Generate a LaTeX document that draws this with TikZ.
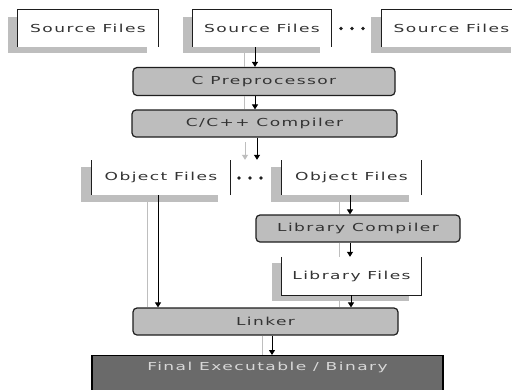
\documentclass[tikz,border=0pt]{standalone}
\usepackage{fontspec}
\newfontfamily\diagfont[FakeStretch=1.55,LetterSpace=13]{DejaVu Sans}
\usetikzlibrary{arrows.meta}
\pgfdeclarelayer{background}
\pgfsetlayers{background,main}
\definecolor{shadowgray}{HTML}{BEBEBE}
\definecolor{procgray}{HTML}{BDBDBD}
\definecolor{finalgray}{HTML}{6A6A6A}
\definecolor{textdark}{HTML}{333333}
\definecolor{edgedark}{HTML}{1E1E1E}
\definecolor{finaltext}{HTML}{D8D8D8}

\tikzset{
  labeltext/.style={font=\diagfont\fontsize{11}{12}\selectfont, text=textdark},
  filebox/.style={labeltext, inner sep=0pt, minimum width=139pt, minimum height=37pt},
  procbox/.style={labeltext, draw=edgedark, line width=1.2pt, fill=procgray,
    rounded corners=4pt, inner sep=0pt, minimum height=28pt},
  finalbox/.style={labeltext, text=finaltext, draw=black, line width=1.2pt, fill=finalgray,
    inner sep=0pt, minimum width=351pt, minimum height=45pt, text height=8pt, text depth=24pt},
  frame/.style={draw=edgedark, line width=1.3pt},
  flow/.style={draw=black, line width=1pt, -{Triangle[length=5pt,width=6pt]}},
  ghost/.style={draw=shadowgray, line width=1pt},
  ghostflow/.style={ghost, -{Triangle[length=5pt,width=6pt]}},
}

\begin{document}
\begin{tikzpicture}[x=1pt,y=-1pt]
\clip (0,0) rectangle (512,389);

% source files
\node[filebox, minimum width=140pt] (src1) at (88,28.5) {Source Files};
\node[filebox, minimum width=138pt] (src2) at (262,28.5) {Source Files};
\node[filebox, minimum width=140pt] (src3) at (451.5,28.5) {Source Files};

% processing stages
\node[procbox, minimum width=262pt] (pre) at (264,81.5) {C Preprocessor};
\node[procbox, minimum width=265pt, minimum height=27pt] (comp) at (264.5,123.5) {C/C++ Compiler};

% object files
\node[filebox, minimum width=138pt, minimum height=35pt] (obj1) at (161,177.5) {Object Files};
\node[filebox, minimum width=139pt, minimum height=35pt] (obj2) at (351.5,177.5) {Object Files};

% library path
\node[procbox, minimum width=204pt, minimum height=27pt] (libc) at (358,228.5) {Library Compiler};
\node[filebox, minimum width=139pt, minimum height=38pt] (libf) at (351.5,276) {Library Files};

% linking
\node[procbox, minimum width=265pt, minimum height=27pt] (link) at (265.5,321.5) {Linker};
\node[finalbox, anchor=north] (final) at (267.5,355) {Final Executable / Binary};

% page, drop shadows and white faces of the file boxes
\begin{pgfonlayer}{background}
  \fill[white] (0,0) rectangle (512,389);
  \foreach \n in {src1,src2,src3}{
    \fill[shadowgray] ([shift={(-10,7)}]\n.north west) rectangle ([shift={(-11,6)}]\n.south east);
    \fill[white] (\n.north west) rectangle (\n.south east);
  }
  \foreach \n in {obj1,obj2}{
    \fill[shadowgray] ([shift={(-11,7)}]\n.north west) rectangle ([shift={(-12,7)}]\n.south east);
    \fill[white] (\n.north west) rectangle (\n.south east);
  }
  \fill[shadowgray] ([shift={(-10,6)}]libf.north west) rectangle ([shift={(-12,6)}]libf.south east);
  \fill[white] (libf.north west) rectangle (libf.south east);
\end{pgfonlayer}

% borders of the file boxes
\foreach \n in {src1,src2,src3}{
  \draw[frame] (\n.south west) -- (\n.north west) -- (\n.north east) -- (\n.south east);
}
\foreach \n in {obj1,obj2}{
  \draw[frame] (\n.south west) -- (\n.north west);
  \draw[frame] (\n.south east) -- (\n.north east);
}
\draw[frame] (libf.north west) -- (libf.south west) -- (libf.south east) -- (libf.north east);

% ellipsis dots between parallel inputs
\foreach \x in {341,352,363} \fill[edgedark] (\x,28.5) circle (1.8);
\foreach \x in {239,250,261} \fill[edgedark] (\x,178) circle (1.8);

% faint shadow lines beside the arrows
\draw[ghost] ([xshift=-18]src2.south |- 0,53) -- ([xshift=-18]src2.south |- pre.north);
\draw[ghost] ([xshift=-20]pre.south) -- ([xshift=-20]pre.south |- comp.north);
\draw[ghostflow] ([xshift=-19.5]comp.south |- 0,142) -- ([xshift=-19.5]comp.south |- obj1.north);
\draw[ghost] ([xshift=-14]obj1.south |- 0,202) -- ([xshift=-14]obj1.south |- link.north);
\draw[ghost] ([xshift=-12.5]obj2.south |- 0,202) -- ([xshift=-12.5]obj2.south |- libc.north);
\draw[ghost] ([xshift=-19]libc.south) -- ([xshift=-19]libc.south |- libf.north);
\draw[ghost] ([xshift=-12.5]libf.south |- 0,301) -- ([xshift=-12.5]libf.south |- link.north);
\draw[ghost] ([xshift=-3.5]link.south) -- ([xshift=-3.5]link.south |- final.north);

% flow arrows
\draw[flow] ([xshift=-7]src2.south) -- ([xshift=-7]src2.south |- pre.north);
\draw[flow] ([xshift=-9]pre.south) -- ([xshift=-9]pre.south |- comp.north);
\draw[flow] ([xshift=-7.5]comp.south) -- ([xshift=-7.5]comp.south |- obj1.north);
\draw[flow] ([xshift=-3]obj1.south) -- ([xshift=-3]obj1.south |- link.north);
\draw[flow] ([xshift=-1.5]obj2.south) -- ([xshift=-1.5]obj2.south |- libc.north);
\draw[flow] ([xshift=-8]libc.south) -- ([xshift=-8]libc.south |- libf.north);
\draw[flow] ([xshift=-0.5]libf.south) -- ([xshift=-0.5]libf.south |- link.north);
\draw[flow] ([xshift=6.5]link.south) -- ([xshift=6.5]link.south |- final.north);
\end{tikzpicture}
\end{document}
